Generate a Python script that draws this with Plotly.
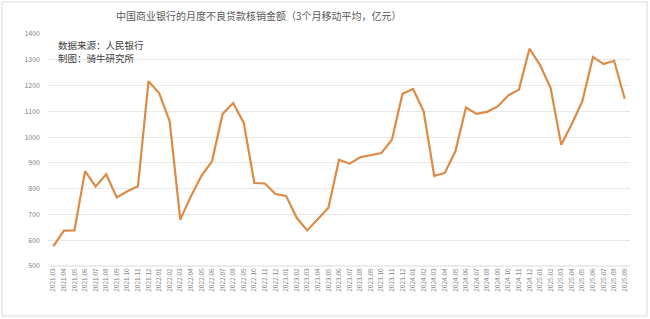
import plotly.graph_objects as go

months = []
for y in range(2021, 2026):
    for m in range(1, 13):
        if (y == 2021 and m < 3) or (y == 2025 and m > 9):
            continue
        months.append(f"{y}.{m:02d}")

values = [
    576, 637, 638, 868, 809, 856, 766, 790, 809, 1217,
    1171, 1061, 680, 770, 850, 906, 1090, 1132, 1055, 822, 820, 779,
    772, 687, 638, 680, 726, 912, 897, 922, 930, 938, 990, 1168,
    1187, 1100, 850, 861, 945, 1115, 1090, 1098, 1119, 1162, 1184, 1343,
    1280, 1190, 970, 1051, 1140, 1311, 1283, 1296, 1149,
]

title_text = "中国商业银行的月度不良贷款核销金额（3个月移动平均，亿元）"
source_lines = ["数据来源：人民银行", "制图：骑牛研究所"]

fig = go.Figure()
fig.add_trace(go.Scatter(
    x=months, y=values, mode="lines",
    line=dict(color="#DC8A45", width=2.2),
    hoverinfo="x+y",
))

L, R, T, B = 48, 20, 34, 53
W, H = 650, 319
pw, ph = W - L - R, H - T - B

def px(x):
    return (x - L) / pw

def py(y):
    return (H - B - y) / ph

annotations = [
    dict(text=title_text, xref="paper", yref="paper",
         x=px(259), y=py(15), xanchor="center", yanchor="middle",
         showarrow=False, font=dict(size=10, color="#595959",
                                    family="Noto Sans CJK SC")),
]
for i, line in enumerate(source_lines):
    annotations.append(dict(
        text=line, xref="paper", yref="paper",
        x=px(57), y=py(45.5 + 12 * i), xanchor="left", yanchor="middle",
        showarrow=False, font=dict(size=9.5, color="#404040",
                                   family="Noto Sans CJK SC"),
        borderpad=0,
    ))

fig.update_layout(
    width=W, height=H,
    margin=dict(l=L, r=R, t=T, b=B),
    paper_bgcolor="white", plot_bgcolor="white",
    showlegend=False,
    font=dict(family="Noto Sans CJK SC, Noto Sans, sans-serif", color="#595959"),
    xaxis=dict(
        type="category", range=[-0.5, len(months) - 0.5],
        tickangle=-90, tickfont=dict(size=6.5, color="#7f7f7f"),
        showgrid=False, showline=False, ticks="", ticklen=0,
        zeroline=False,
    ),
    yaxis=dict(
        range=[500, 1400], dtick=100, tick0=500,
        tickfont=dict(size=7, color="#7f7f7f"),
        gridcolor="#E8E8E8", gridwidth=1, showline=False, zeroline=False,
        ticks="", ticklabelstandoff=7,
    ),
    annotations=annotations,
    shapes=[
        dict(type="rect", xref="paper", yref="paper",
             x0=px(2), x1=px(647), y0=py(316), y1=py(2),
             line=dict(color="#D9D9D9", width=1), layer="below"),
        dict(type="line", xref="paper", yref="paper",
             x0=0, x1=1, y0=0, y1=0,
             line=dict(color="#D9D9D9", width=1), layer="below"),
    ],
)

fig.write_html("out.html")
